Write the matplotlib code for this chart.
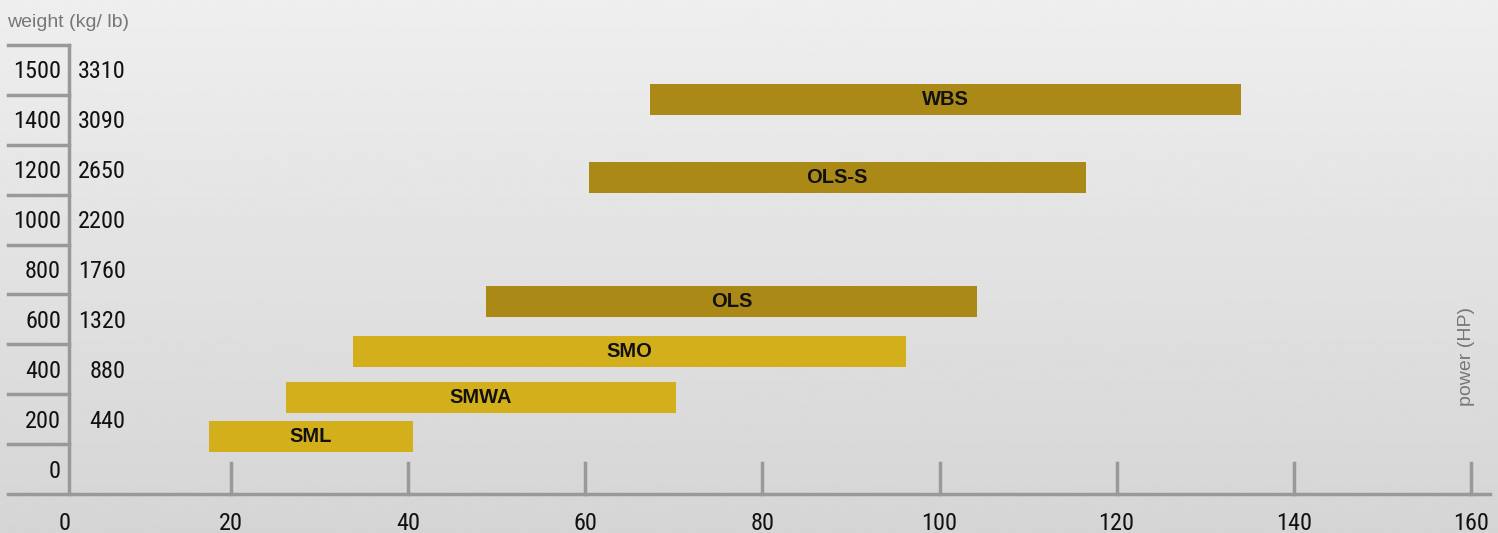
import matplotlib.pyplot as plt
import numpy as np
from matplotlib import font_manager

# Series data (power range in HP, weight in kg at bar centre)
models = ['SML', 'SMWA', 'SMO', 'OLS', 'OLS-S', 'WBS']
power_min = [17.5, 26.2, 33.8, 48.8, 60.4, 67.3]
power_max = [40.5, 70.2, 96.2, 104.2, 116.5, 134.0]
weight_kg = [132, 288, 472, 672, 1170, 1440]
bar_colors = ['#d4af1c', '#d4af1c', '#d4af1c', '#ab8917', '#ab8917', '#ab8917']

# Axis labels
kg_labels = [0, 200, 400, 600, 800, 1000, 1200, 1400, 1500]
lb_labels = ['', '440', '880', '1320', '1760', '2200', '2650', '3090', '3310']
x_ticks = [0, 20, 40, 60, 80, 100, 120, 140, 160]

# Style
axis_color = '#999999'
label_color = '#111111'
title_color = '#777777'
regular = ['Liberation Sans', 'DejaVu Sans']
bar_height = 0.62
spine_x = 1.7

# the numbers use a narrow face; take one if it is installed
installed = {(f.name, f.stretch) for f in font_manager.fontManager.ttflist}
installed_names = {n for n, s in installed}
narrow_kw = dict(family=regular, fontsize=16)
for name, size in [('Liberation Sans Narrow', 19), ('Arial Narrow', 19),
                   ('Roboto Condensed', 17.5), ('Open Sans Condensed', 17)]:
    if name in installed_names:
        narrow_kw = dict(family=[name, 'DejaVu Sans'], fontsize=size)
        break

fig = plt.figure(figsize=(14.98, 5.33), dpi=100)
ax = fig.add_axes([0, 0, 1, 1])
ax.set_xlim(-6.1, 163.07)
ax.set_ylim(-0.78, 9.9)
ax.axis('off')

# background gradient
grad = np.linspace(0.935, 0.835, 256).reshape(-1, 1)
ax.imshow(grad, cmap='gray', vmin=0, vmax=1, aspect='auto',
          extent=[-6.1, 163.07, -0.78, 9.9], origin='upper', zorder=0)

# weight rows: each label sits in its own band
band_pos = np.arange(len(kg_labels)) + 0.5
y_centres = np.interp(weight_kg, kg_labels, band_pos)

ax.barh(y_centres, np.array(power_max) - np.array(power_min), left=power_min,
        height=bar_height, color=bar_colors, zorder=3)
for name, lo, hi, y in zip(models, power_min, power_max, y_centres):
    ax.text((lo + hi) / 2, y, name, ha='center', va='center', fontsize=14.5,
            fontweight='bold', color=label_color, family=regular, zorder=4)

# y axis: vertical line and band separators
ax.plot([spine_x, spine_x], [0, len(kg_labels)], color=axis_color, lw=2.5, zorder=2)
for k in range(1, len(kg_labels) + 1):
    ax.plot([-5.2, spine_x], [k, k], color=axis_color, lw=2.5, zorder=2)
for kg, lb, y in zip(kg_labels, lb_labels, band_pos):
    ax.text(0.8, y - 0.04, str(kg), ha='right', va='center',
            color=label_color, **narrow_kw)
    ax.text(8.1, y - 0.04, lb, ha='right', va='center',
            color=label_color, **narrow_kw)

# x axis
ax.plot([-5.2, 162.2], [0, 0], color=axis_color, lw=2.5, zorder=2)
for t in x_ticks:
    if t > 0:
        ax.plot([t, t], [0, 0.62], color=axis_color, lw=2.5, zorder=2)
    ax.text(t if t > 0 else 1.2, -0.58, str(t), ha='center', va='center',
            color=label_color, **narrow_kw)

ax.text(-5.3, 9.45, 'weight (kg/ lb)', ha='left', va='center', fontsize=14,
        color=title_color, family=regular)
ax.text(159.5, 2.75, 'power (HP)', ha='center', va='center', fontsize=14,
        rotation=90, color=title_color, family=regular)

fig.savefig('out.png', dpi=100)
